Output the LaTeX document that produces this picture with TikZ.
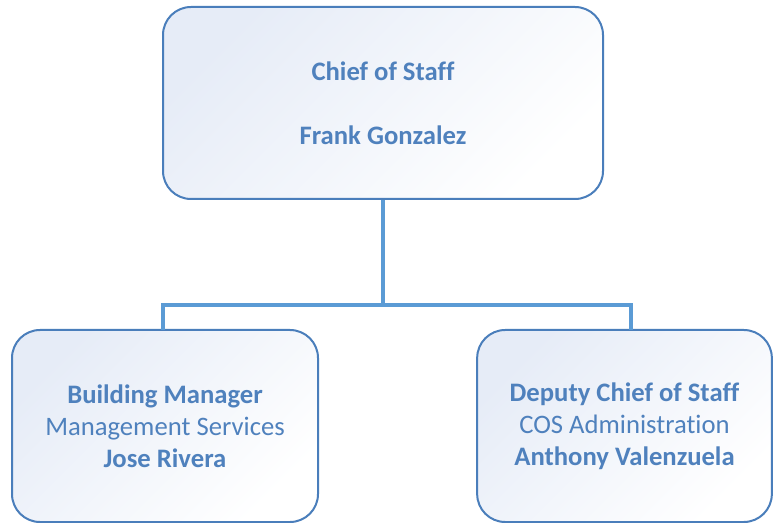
\documentclass[tikz,border=0pt]{standalone}
\usepackage{fontspec}
\setmainfont{Carlito}[Ligatures=NoCommon]
\usetikzlibrary{positioning}
\definecolor{boxstroke}{HTML}{4A7EBB}
\definecolor{boxtint}{HTML}{E6ECF7}
\definecolor{linkblue}{HTML}{5B9BD5}
\definecolor{txtblue}{HTML}{4F81BD}

\begin{document}
\begin{tikzpicture}[
    x=0.75pt, y=-0.75pt,
    role/.style={draw=boxstroke, line width=1.5pt, rounded corners=21pt,
                 top color=boxtint, bottom color=white, shading angle=45,
                 align=center, text=txtblue, inner sep=0pt,
                 font=\fontsize{20pt}{24pt}\selectfont, minimum height=144pt},
    link/.style={draw=linkblue, line width=3pt},
]
\useasboundingbox (0,0) rectangle (773,523);

% ---- Chief of Staff ------------------------------------------------------
\node[role, minimum width=330pt] (cos) at (383,103)
    {\textbf{Chief of Staff}\\[24pt]\textbf{Frank Gonzalez}};

% ---- Reports ---------------------------------------------------------------
\node[role, minimum width=229.5pt] (bm) at (165,426)
    {\textbf{Building Manager}\\Management Services\\\textbf{Jose Rivera}};
\node[role, minimum width=221pt] (dcos) at (624.5,426)
    {\textbf{Deputy Chief of Staff}\\COS Administration\\\textbf{Anthony Valenzuela}};

% ---- Connectors ------------------------------------------------------------
\coordinate (hub) at (383,305);
\coordinate (bmtop) at (163,330);
\coordinate (dcostop) at (631,330);
\draw[link] (cos.south) -- (hub);
\draw[link] (hub) -| (bmtop);
\draw[link] (hub) -| (dcostop);

\end{tikzpicture}
\end{document}
